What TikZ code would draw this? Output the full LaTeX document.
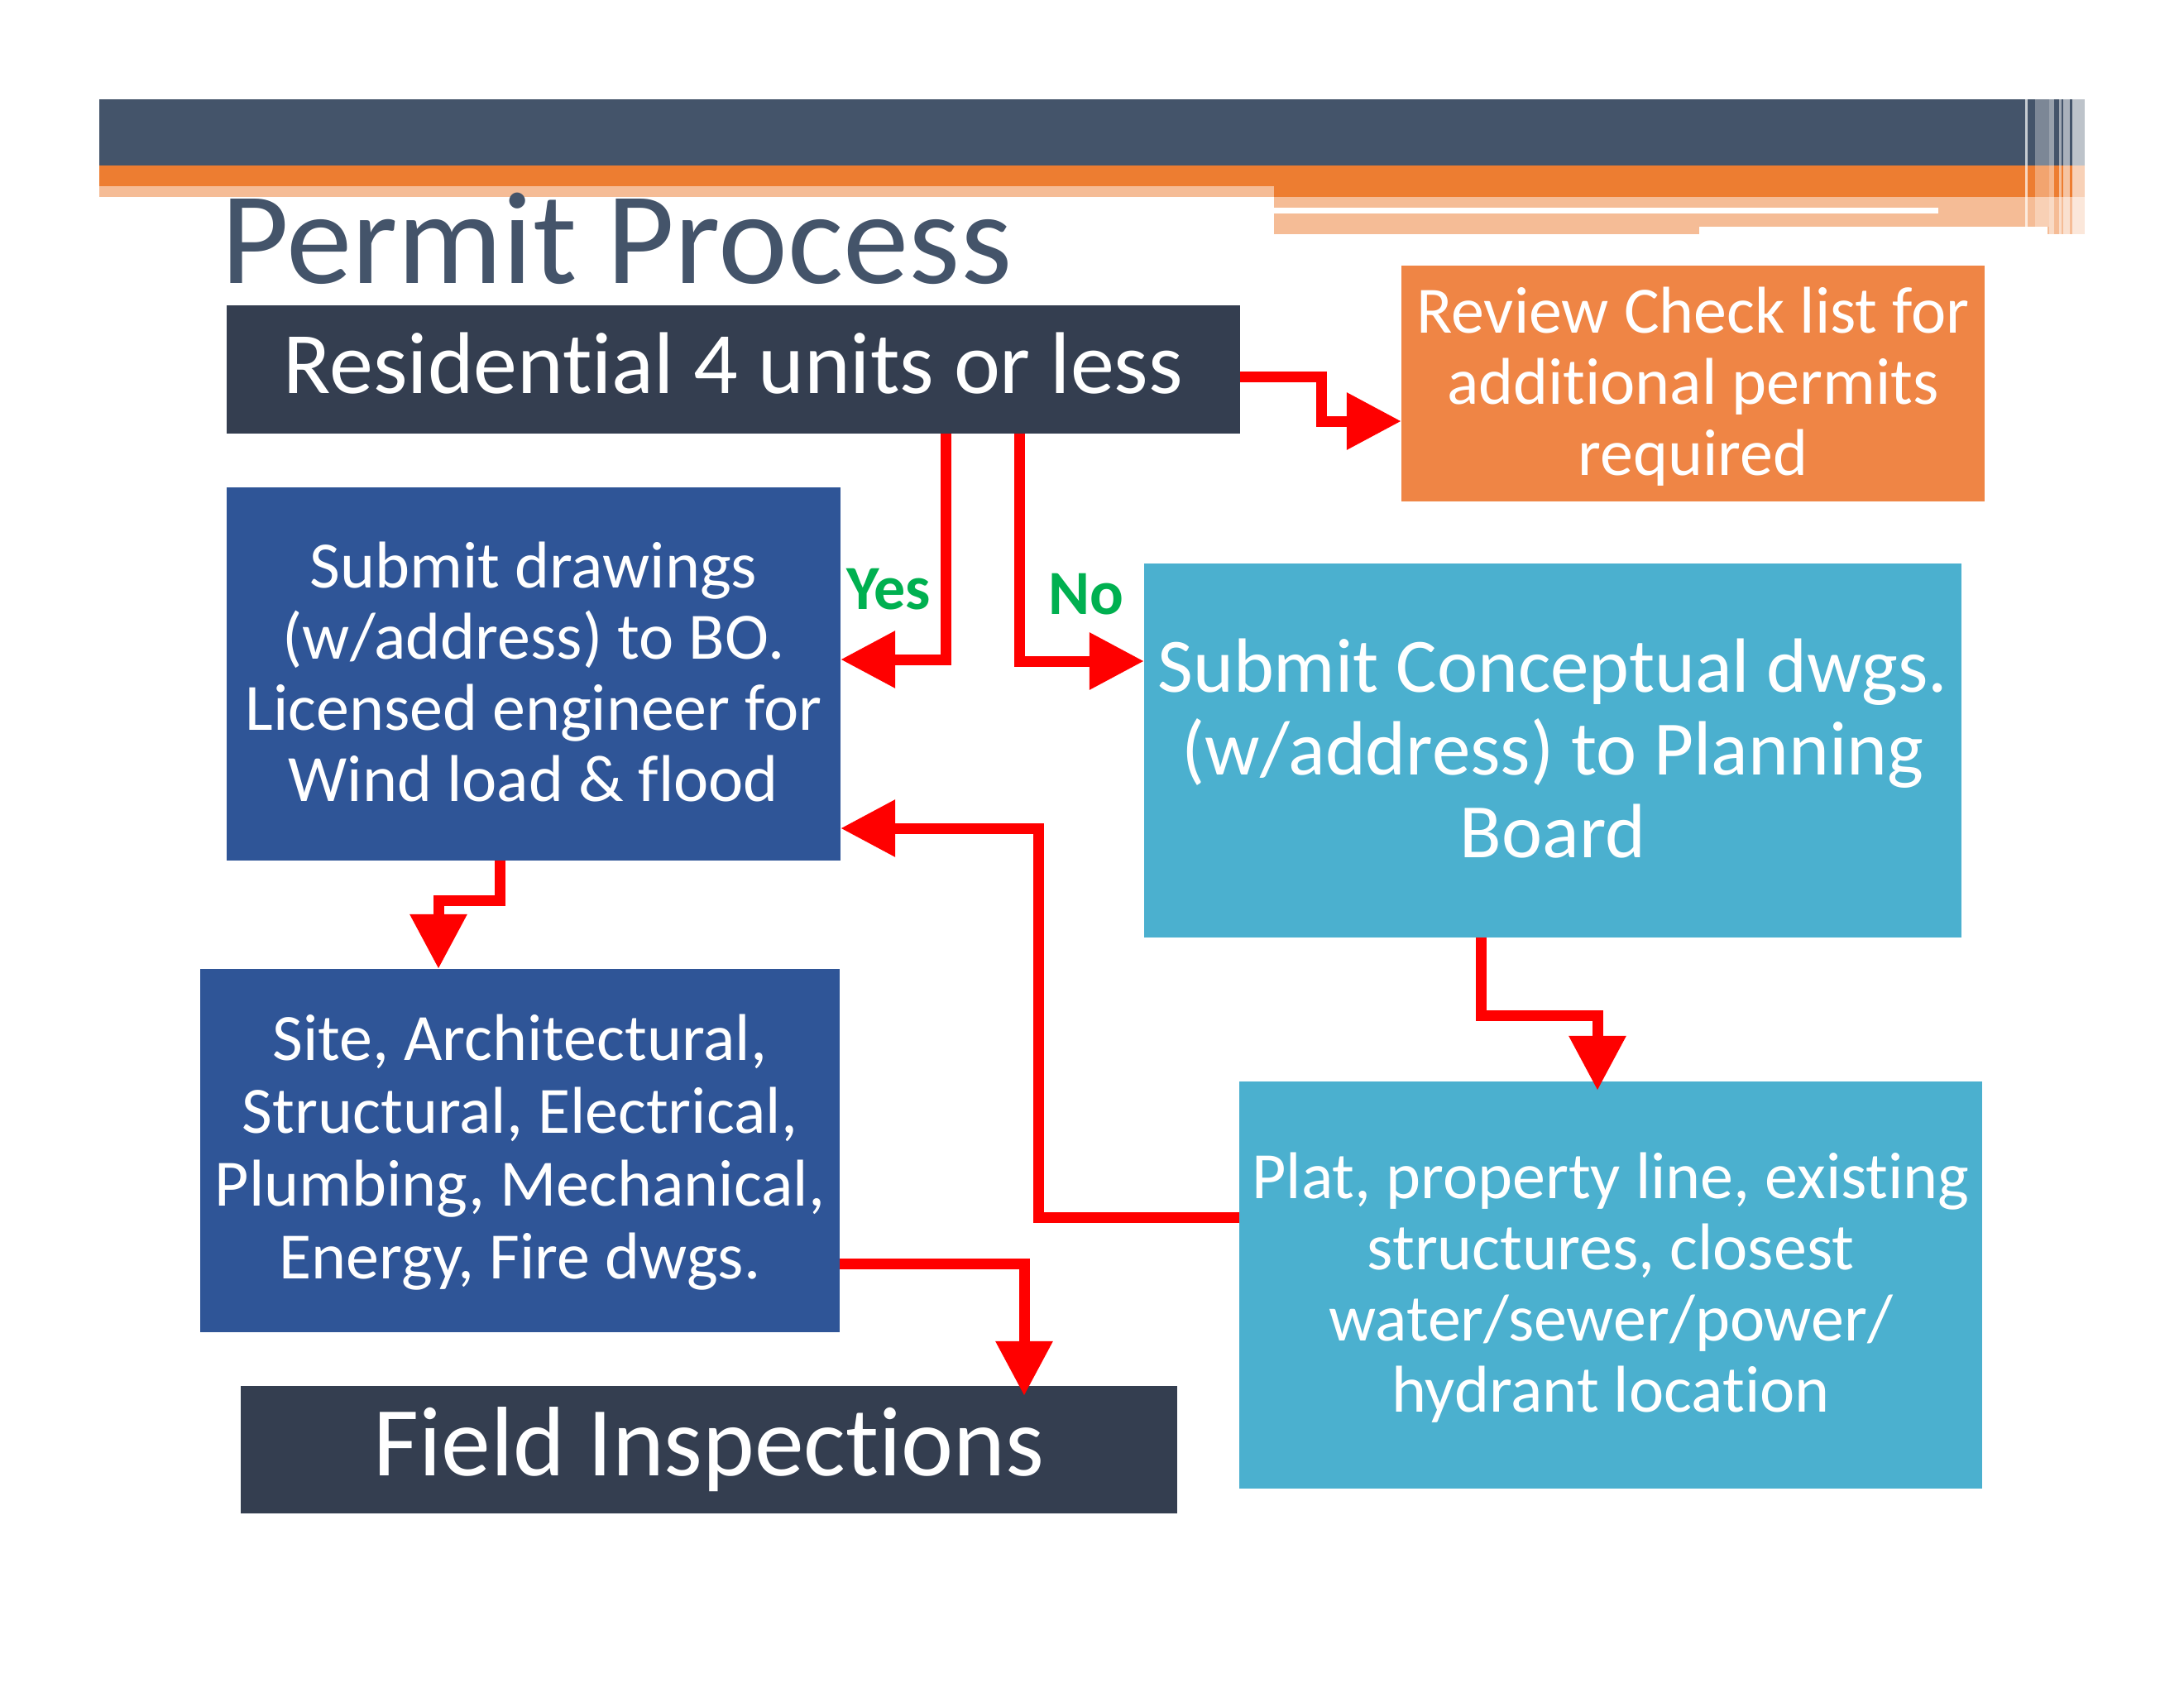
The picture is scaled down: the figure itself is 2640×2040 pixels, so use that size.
\documentclass[tikz,border=0pt]{standalone}
\usepackage{fontspec}
\setmainfont{Carlito}[Ligatures={NoCommon,NoDiscretionary,NoRare,NoContextual}]
\usetikzlibrary{arrows.meta}
\definecolor{hdr}{HTML}{44546A}
\definecolor{hdrorange}{HTML}{ED7D31}
\definecolor{lorange}{HTML}{F5BC96}
\definecolor{darkbox}{HTML}{343E50}
\definecolor{revbox}{HTML}{EF8545}
\definecolor{bluebox}{HTML}{2F5597}
\definecolor{lblue}{HTML}{4BB0CF}
\definecolor{yesgreen}{HTML}{00B050}
\tikzset{
  box/.style={draw=none, inner sep=0pt, align=center, text=white},
  txt/.style={inner sep=0pt, align=center, text=white},
  resttxt/.style={font=\fontsize{106}{120}\selectfont},
  fieldtxt/.style={font=\fontsize{119.5}{130}\selectfont},
  midtxt/.style={font=\fontsize{93}{100}\selectfont},
  smalltxt/.style={font=\fontsize{80}{86}\selectfont},
  arr/.style={draw=red, line width=13pt, line join=miter, -{Triangle[length=66pt,width=66pt]}},
  lbl/.style={text=yesgreen, font=\fontsize{76}{80}\selectfont\bfseries, inner sep=0pt, anchor=base},
  stripe/.style={fill=white, draw=none}
}
\begin{document}
\begin{tikzpicture}[x=1pt,y=-1pt]
\useasboundingbox (0,0) rectangle (2640,2040);
\fill[white] (0,0) rectangle (2640,2040);
% header bands
\fill[hdr] (120,120) rectangle (2520,200);
\fill[hdrorange] (120,200) rectangle (2520,238);
\fill[lorange] (120,225) rectangle (1540,238);
\fill[lorange] (1540,238) rectangle (2520,274);
\fill[lorange] (1540,274) rectangle (2054,283);
\fill[lorange] (2475,274) rectangle (2520,283);
\fill[white] (1540,251) rectangle (2343,258);
% stripes at the right end
\fill[stripe, opacity=0.7] (2448,120) rectangle (2451,274);
\fill[stripe, opacity=0.3] (2460,120) rectangle (2477,274);
\fill[stripe, opacity=0.45] (2477,120) rectangle (2483,283);
\fill[stripe, opacity=0.5] (2489,120) rectangle (2492,283);
\fill[stripe, opacity=0.55] (2494,120) rectangle (2502,283);
\fill[stripe, opacity=0.65] (2505,120) rectangle (2520,283);
% title
\node[anchor=base west, inner sep=0pt, text=hdr, font=\fontsize{159}{170}\selectfont] (title) at (267,342) {Permit Process};
% boxes
\node[box, resttxt, fill=darkbox, minimum width=1225pt, minimum height=155pt, text height=76pt, text depth=19pt] (r1) at (886.5,446.5) {Residential 4 units or less};
\node[box, fill=revbox, minimum width=705pt, minimum height=285pt] (rev) at (2046.5,463.5) {};
\node[txt, smalltxt] (revt) at ([yshift=-3.5pt]rev.center) {Review Check list for\\additional permits\\required};
\node[box, fill=bluebox, minimum width=742pt, minimum height=451pt] (sd) at (645,814.5) {};
\node[txt, smalltxt] (sdt) at ([yshift=2.5pt]sd.center) {Submit drawings\\(w/address) to BO.\\Licensed engineer for\\Wind load \& flood};
\node[box, fill=lblue, minimum width=988pt, minimum height=452pt] (sc) at (1877,907) {};
\node[txt, midtxt] (sct) at ([yshift=2pt]sc.center) {Submit Conceptual dwgs.\\(w/address) to Planning\\Board};
\node[box, fill=bluebox, minimum width=773pt, minimum height=439pt] (site) at (628.5,1390.5) {};
\node[txt, font=\fontsize{80}{88}\selectfont] (sitet) at ([yshift=-2.5pt]site.center) {Site, Architectural,\\Structural, Electrical,\\Plumbing, Mechanical,\\Energy, Fire dwgs.};
\node[box, fieldtxt, fill=darkbox, minimum width=1132pt, minimum height=154pt, text height=82pt, text depth=20pt] (field) at (857,1752) {Field Inspections};
\node[box, fill=lblue, minimum width=898pt, minimum height=492pt] (plat) at (1947,1553) {};
\node[txt, smalltxt] (platt) at ([yshift=-3.5pt]plat.center) {Plat, property line, existing\\structures, closest\\water/sewer/power/\\hydrant location};
% labels
\node[lbl] (yes) at (1074,736) {Yes};
\node[lbl] (no) at (1312.5,742) {No};
% connectors
\draw[arr] ([yshift=-8.5pt]r1.east) -| (1597,509) -- ([yshift=-45.5pt]rev.west);
\draw[arr] ([xshift=256.5pt]r1.south) |- ([yshift=17.5pt]sd.east);
\draw[arr] ([xshift=345.5pt]r1.south) |- ([yshift=108pt]sc.west);
\draw[arr] ([xshift=-41pt]sd.south) -- (604,1088) -| ([xshift=-98.5pt]site.north);
\draw[arr] ([xshift=-87pt]sc.south) -- (1790,1227) -| ([xshift=-16pt,yshift=-11pt]plat.north);
\draw[arr] ([yshift=82pt]plat.west) -| (1255,1001) -- ([yshift=-186.5pt]sd.east);
\draw[arr] ([yshift=-137pt]site.east) -| ([xshift=381pt,yshift=-12pt]field.north);
\end{tikzpicture}
\end{document}
